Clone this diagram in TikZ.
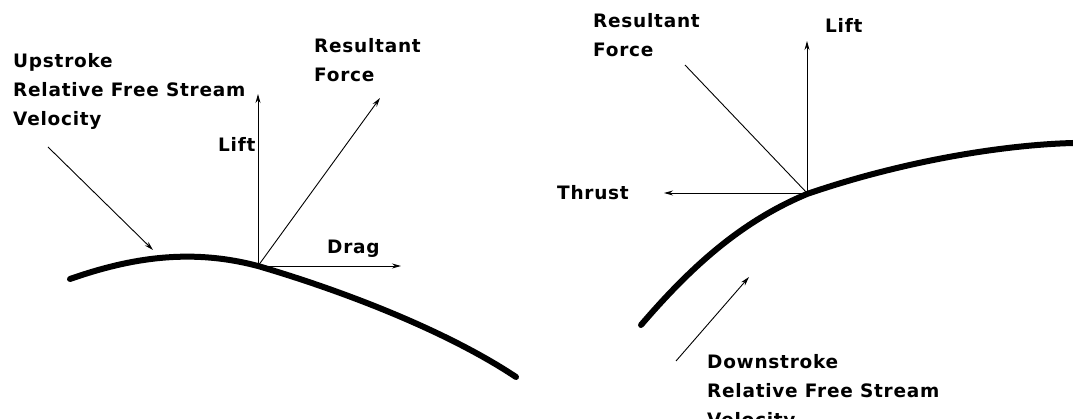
\documentclass[tikz,border=0pt]{standalone}
\usepackage{fontspec}
\setmainfont{DejaVu Sans}[BoldFont={DejaVu Sans Bold},LetterSpace=4]
\usetikzlibrary{arrows.meta}
\begin{document}
\begin{tikzpicture}[x=1pt,y=-1pt,
  lbl/.style={font=\bfseries\fontsize{18.5}{29}\selectfont,inner sep=0pt,align=left,anchor=base west},
  force/.style={line width=0.9pt,-{Stealth[length=9pt,width=5pt]}},
  plainline/.style={line width=0.9pt},
  wing/.style={line width=6pt,line cap=round}]
\useasboundingbox (0,0) rectangle (1073,419);
% ---------- left (upstroke) ----------
\draw[wing] (70,279) .. controls (130,258) and (190,248) .. (258,266)
  .. controls (350,293) and (450,333) .. (516,377);
\coordinate (oL) at (258,266);
\coordinate (liftL) at (258,94);
\coordinate (resL) at (380,98);
\coordinate (dragL) at (401,266);
\coordinate (upS) at (48,147);
\coordinate (upE) at (153,250);
\draw[force] (oL) -- (liftL);
\draw[force] (oL) -- (resL);
\draw[force] (oL) -- (dragL);
\draw[force] (upS) -- (upE);
% base anchor of a multi-line node = baseline of its last line
\node[lbl] (upL) at (13,126) {Upstroke\\Relative Free Stream\\Velocity};
\node[lbl] (liftLt) at (218,152) {Lift};
\node[lbl] (resLt) at (314,82) {Resultant\\Force};
\node[lbl] (dragLt) at (327,254) {Drag};
% ---------- right (downstroke) ----------
\draw[wing] (641,325) .. controls (690,268) and (740,222) .. (807,194)
  .. controls (900,162) and (1000,145) .. (1073,143);
\coordinate (oR) at (807,193);
\coordinate (liftR) at (807,41);
\coordinate (resR) at (685,65);
\coordinate (thrR) at (664,193);
\coordinate (dnS) at (676,361);
\coordinate (dnE) at (749,277);
\draw[force] (oR) -- (liftR);
\draw[plainline] (oR) -- (resR);
\draw[force] (oR) -- (thrR);
\draw[force] (dnS) -- (dnE);
\node[lbl] (resRt) at (593,57) {Resultant\\Force};
\node[lbl] (liftRt) at (825,33) {Lift};
\node[lbl] (thrRt) at (557,200) {Thrust};
\node[lbl] (dnL) at (707,426) {Downstroke\\Relative Free Stream\\Velocity};
\end{tikzpicture}
\end{document}
